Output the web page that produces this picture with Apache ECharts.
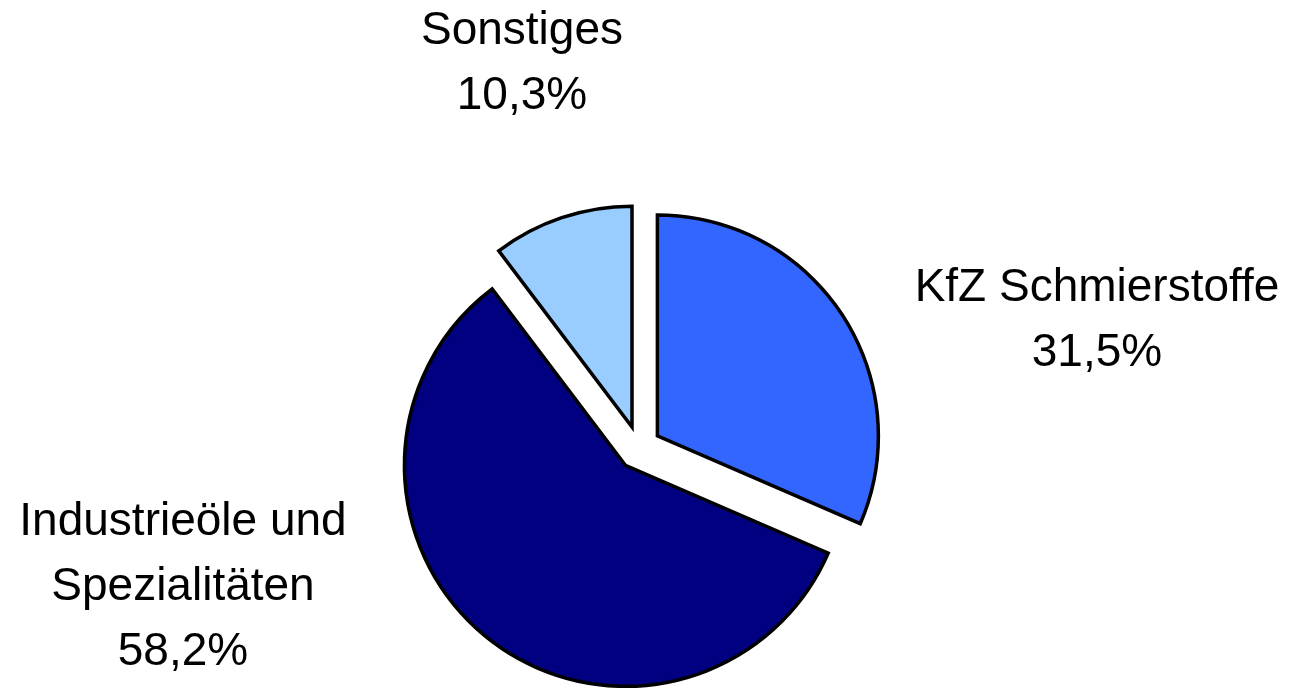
<!DOCTYPE html>
<html>
<head>
<meta charset="utf-8">
<script src="https://cdn.jsdelivr.net/npm/echarts@6/dist/echarts.min.js"></script>
<style>
  html, body { margin: 0; padding: 0; background: #fff; }
  #chart { width: 1310px; height: 692px; }
</style>
</head>
<body>
<div id="chart"></div>
<script>
// Anteile am Umsatz
const categories = ['KfZ Schmierstoffe', 'Industrieöle und\nSpezialitäten', 'Sonstiges']
const shares = [31.5, 58.2, 10.3]
const colors = ['#3366ff', '#000080', '#99ccff']

// label centres (px), one per slice
const labelPos = [[1097, 321], [183, 587], [522, 64]]

const fmt = (v) => v.toFixed(1).replace('.', ',') + '%'

let chart = echarts.init(document.getElementById('chart'))

chart.setOption({
  animation: false,
  graphic: categories.map((name, i) => ({
    type: 'text',
    x: labelPos[i][0],
    y: labelPos[i][1],
    silent: true,
    style: {
      text: name + '\n' + fmt(shares[i]),
      fontFamily: 'Liberation Sans, Arial, sans-serif',
      fontSize: 46,
      lineHeight: 65,
      fill: '#000',
      align: 'center',
      verticalAlign: 'middle',
    },
  })),
  series: [
    {
      type: 'pie',
      center: [639, 448],
      radius: 221,
      startAngle: 90,
      clockwise: true,
      selectedMode: 'multiple',
      selectedOffset: 22,
      silent: true,
      data: categories.map((name, i) => ({
        name: name,
        value: shares[i],
        selected: true,
        itemStyle: { color: colors[i] },
      })),
      itemStyle: {
        borderColor: '#000',
        borderWidth: 3.5,
        borderJoin: 'miter',
      },
      select: {
        itemStyle: { borderColor: '#000', borderWidth: 3.5 },
      },
      label: { show: false },
      labelLine: { show: false },
    },
  ],
})
</script>
</body>
</html>
